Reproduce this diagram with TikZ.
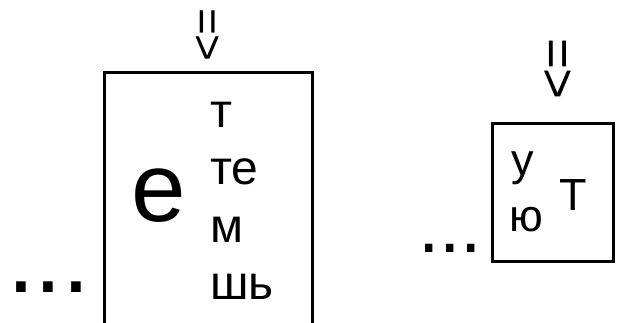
\documentclass[tikz,border=0pt]{standalone}
\usepackage{fontspec}
\setmainfont{Liberation Sans}
\begin{document}
\begin{tikzpicture}[x=1pt,y=-1pt,
  frame/.style={line width=3pt,line join=miter},
  lbl/.style={inner sep=0pt,outer sep=0pt,anchor=base west},
  big/.style={lbl,font=\fontsize{98}{98}\selectfont},
  small/.style={lbl,font=\fontsize{48}{48}\selectfont},
  rsmall/.style={lbl,font=\fontsize{45}{45}\selectfont},
  arr/.style={inner sep=0pt,outer sep=0pt,anchor=center,rotate=-90}]
\useasboundingbox (0,0) rectangle (618,323);
% left box (open at bottom)
\draw[frame] (104,330) coordinate (lb1) -- (104,73) -- (312,73) -- (312,330) coordinate (lb2);
% right box
\draw[frame] (492,124) rectangle (613,261);
% arrows
\node[arr,font=\fontsize{46}{46}\selectfont] (a1) at (206,35) {=>};
\node[arr,font=\fontsize{53}{53}\selectfont] (a2) at (556,69) {=>};
% dots
\node[lbl,font=\fontsize{100}{100}\selectfont] (d1) at (7,292) {...};
\node[lbl,font=\fontsize{77}{77}\selectfont] (d2) at (418,252) {...};
% left box text
\node[big] (e) at (131,221) {е};
\node[small] (t1) at (210,128) {т};
\node[small] (t2) at (210,185) {те};
\node[small] (t3) at (210,242) {м};
\node[small] (t4) at (210,299) {шь};
% right box text
\node[rsmall] (u1) at (511,176) {у};
\node[rsmall] (u2) at (509,231) {ю};
\node[rsmall] (u3) at (559,211) {Т};
\end{tikzpicture}
\end{document}
